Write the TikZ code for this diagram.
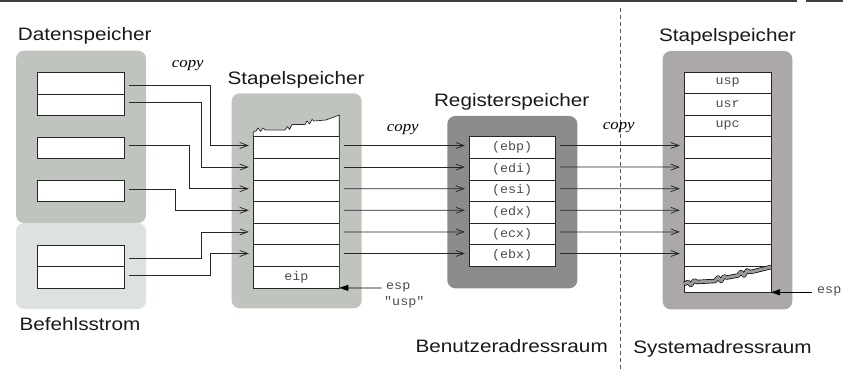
\documentclass[tikz,border=0pt]{standalone}
\usepackage{fontspec}
\setmainfont{Liberation Sans}
\newfontfamily\lsans[FakeStretch=1.15]{Liberation Sans}
\newfontfamily\lmono[FakeStretch=1.07]{Liberation Mono}
\newfontfamily\lserif[FakeStretch=1.12]{Liberation Serif}
\usetikzlibrary{arrows.meta,calc}
\definecolor{dsgray}{HTML}{C0C4BE}
\definecolor{bsgray}{HTML}{DEE2DE}
\definecolor{reggray}{HTML}{8C8C8C}
\definecolor{sysgray}{HTML}{ABA7AB}
\begin{document}
\begin{tikzpicture}[x=1pt,y=-1pt,
  cell/.style={draw=black!85, line width=0.7pt, fill=white, minimum width=86.5pt, minimum height=21.6pt, inner sep=0pt, outer sep=0pt, font=\lmono\fontsize{12.5}{14}\selectfont, text=black!70},
  lbl/.style={font=\lsans\fontsize{18}{20}\selectfont, inner sep=0pt, anchor=base, text=black!90},
  cpy/.style={font=\lserif\itshape\fontsize{15}{17}\selectfont, inner sep=0pt, anchor=base west},
  arr/.style={draw=black!85, line width=0.75pt, -{Straight Barb[length=8pt,width=6pt]}, shorten <=4.7pt, shorten >=4.5pt},
  ptr/.style={draw=black, line width=0.75pt, -{Triangle[length=9pt,width=6pt]}},
  mono/.style={font=\lmono\fontsize{12.5}{14}\selectfont, text=black!70, inner sep=0pt},
]
\useasboundingbox (0,0) rectangle (843,371);
% top rule
\draw[line width=1.3pt, black!75] (0,1) -- (797,1) (806,1) -- (843,1);
% panels
\fill[dsgray, rounded corners=8pt] (16,50.7) rectangle (146,223);
\fill[bsgray, rounded corners=8pt] (16,223) rectangle (146,309);
\fill[dsgray, rounded corners=8pt] (231.7,93.3) rectangle (361.7,308.3);
\fill[reggray, rounded corners=8pt] (447.3,116) rectangle (577.3,288.3);
\fill[sysgray, rounded corners=8pt] (662.7,51) rectangle (792.3,309.3);
% divider
\draw[black!65, line width=0.7pt, dash pattern=on 4pt off 3pt] (620,8) -- (620,371);
% titles
\node[lbl] (tds) at (84.7,40.7) {Datenspeicher};
\node[lbl] (tbs) at (80,330) {Befehlsstrom};
\node[lbl] (tst1) at (296,85) {Stapelspeicher};
\node[lbl] (treg) at (511.7,106.7) {Registerspeicher};
\node[lbl] (tst2) at (727.5,41.7) {Stapelspeicher};
\node[lbl] (tben) at (511.7,352.7) {Benutzeradressraum};
\node[lbl] (tsys) at (722.5,353.3) {Systemadressraum};
% copy labels
\node[cpy] (c1) at (171.7,67.7) {copy};
\node[cpy] (c2) at (386.7,131.7) {copy};
\node[cpy] (c3) at (602.7,130) {copy};
% data cells
\node[cell] (d1) at (81,83.2) {};
\node[cell] (d2) at (81,104.8) {};
\node[cell] (d3) at (81,147.8) {};
\node[cell] (d4) at (81,191) {};
\node[cell] (b1) at (81,255.9) {};
\node[cell] (b2) at (81,277.5) {};
% stack 1 torn top
\filldraw[fill=white, draw=black!85, line width=0.7pt, line join=round]
  (253.3,136.7) -- (253.3,132) -- (256,131) -- (258,128) -- (260.5,131.5) -- (263,128) -- (265,130)
  -- (285,130) -- (287.5,126.5) -- (289.5,129.5) -- (292,124.5) -- (305,124.5) -- (307,121)
  -- (309.5,124) -- (312,119.5) -- (314,121) -- (326,120) -- (339.3,115) -- (339.3,136.7);
% stack 1 cells
\foreach \i in {1,...,6} {
  \node[cell, minimum width=86pt] (s\i) at (296.3,{147.5+21.6*(\i-1)}) {};
}
\node[cell, minimum width=86pt] (s7) at (296.3,277.1) {eip};
\draw[line width=1.3pt, black!70] (339.3,115) -- (s7.south east);
% registers
\node[cell, minimum width=85.7pt] (r1) at (512.2,147.5) {(ebp)};
\node[cell, minimum width=85.7pt] (r2) at (512.2,169.1) {(edi)};
\node[cell, minimum width=85.7pt] (r3) at (512.2,190.7) {(esi)};
\node[cell, minimum width=85.7pt] (r4) at (512.2,212.3) {(edx)};
\node[cell, minimum width=85.7pt] (r5) at (512.2,233.9) {(ecx)};
\node[cell, minimum width=85.7pt] (r6) at (512.2,255.5) {(ebx)};
% system stack
\node[cell, minimum width=86.7pt] (q1) at (727.7,82.7) {usp};
\node[cell, minimum width=86.7pt] (q2) at (727.7,104.3) {usr};
\node[cell, minimum width=86.7pt] (q3) at (727.7,125.9) {upc};
\foreach \i in {4,...,9} {
  \node[cell, minimum width=86.7pt] (q\i) at (727.7,{82.7+21.6*(\i-1)}) {};
}
\node[cell, minimum width=86.7pt, minimum height=26pt] (q10) at (727.7,279.3) {};
\draw[double=black!40, double distance=3pt, line width=0.7pt, line join=round]
  (684.3,284) -- (688,282) -- (691,285) -- (694,280.5) -- (697,282) -- (715,281) -- (718,277.5)
  -- (721,281) -- (724,276.5) -- (727,277.5) -- (738,275.5) -- (741,272) -- (744,275.5)
  -- (747,270.5) -- (750,272) -- (755,271) -- (771,267);
% data -> stack 1
\coordinate (xa) at (210.7,0);
\coordinate (xb) at (201.7,0);
\coordinate (xc) at (189,0);
\coordinate (xd) at (175.7,0);
\coordinate (f1) at ([yshift=-2pt]d1.east);
\coordinate (f2) at ([yshift=2pt]d2.east);
\coordinate (f3) at ([yshift=2pt]d3.east);
\coordinate (f4) at ([yshift=2pt]d4.east);
\coordinate (f5) at ([yshift=-2pt]b1.east);
\coordinate (f6) at ([yshift=2.5pt]b2.east);
\foreach \i in {1,...,6} { \coordinate (t\i) at ([yshift=2pt]s\i.west); }
\draw[arr] (f1) -- (f1 -| xa) |- (t1);
\draw[arr] (f2) -- (f2 -| xb) |- (t2);
\draw[arr] (f3) -- (f3 -| xc) |- (t3);
\draw[arr] (f4) -- (f4 -| xd) |- (t4);
\draw[arr] (f5) -- (f5 -| xb) |- (t5);
\draw[arr] (f6) -- (f6 -| xa) |- (t6);
% stack 1 -> registers -> system stack
\foreach \i [evaluate=\i as \j using int(\i+3)] in {1,...,6} {
  \draw[arr] ([yshift=2pt]s\i.east) -- ([yshift=2pt]r\i.west);
  \draw[arr] ([yshift=2pt]r\i.east) -- ([yshift=2pt]q\j.west);
}
% esp pointers
\coordinate (e1) at (381.7,287.9);
\draw[ptr] (e1) -- (s7.south east);
\node[mono, anchor=west] (esp1) at (386,287.5) {esp};
\node[mono, anchor=west] (usp1) at (384,302) {"usp"};
\coordinate (e2) at (811.7,292.3);
\draw[ptr] (e2) -- (q10.south east);
\node[mono, anchor=west] (esp2) at (817,291.5) {esp};
\end{tikzpicture}
\end{document}
